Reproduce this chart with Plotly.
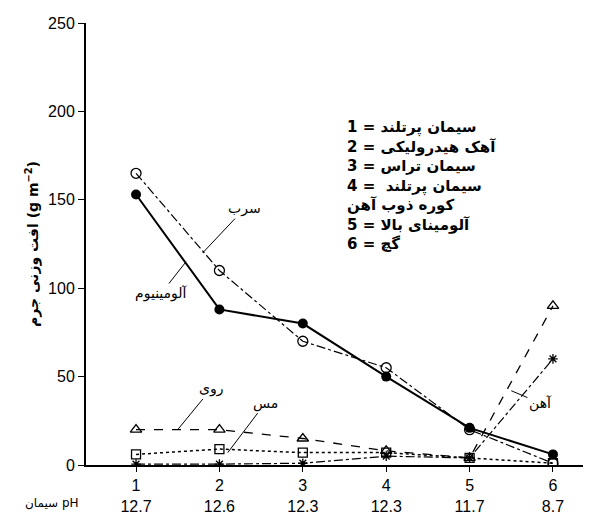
import plotly.graph_objects as go

x = [1, 2, 3, 4, 5, 6]
ph = ["12.7", "12.6", "12.3", "12.3", "11.7", "8.7"]
lead = [165, 110, 70, 55, 20, 1]
aluminium = [153, 88, 80, 50, 21, 6]
zinc = [20, 20, 15, 8, 4, 90]
copper = [6, 9, 7, 7, 4, 1]
iron = [0.5, 0.5, 1, 5, 4, 60]

fig = go.Figure()
k = "black"
fig.add_trace(go.Scatter(x=x, y=lead, mode="lines+markers", line=dict(color=k, width=1.2, dash="dashdot"),
                         marker=dict(symbol="circle-open", size=10, color=k, line=dict(width=1.3))))
fig.add_trace(go.Scatter(x=x, y=aluminium, mode="lines+markers", line=dict(color=k, width=2),
                         marker=dict(symbol="circle", size=10, color=k)))
fig.add_trace(go.Scatter(x=x, y=zinc, mode="lines+markers", line=dict(color=k, width=1.3, dash="dash"),
                         marker=dict(symbol="triangle-up-open", size=10, color=k, line=dict(width=1.3))))
fig.add_trace(go.Scatter(x=x, y=copper, mode="lines+markers", line=dict(color=k, width=1.5, dash="dot"),
                         marker=dict(symbol="square-open", size=9, color=k, line=dict(width=1.3))))
fig.add_trace(go.Scatter(x=x, y=iron, mode="lines+markers", line=dict(color=k, width=1.2, dash="dashdot"),
                         marker=dict(symbol="asterisk-open", size=8, color=k, line=dict(width=1.3, color=k))))

F = "DejaVu Sans"
N = "Liberation Sans"
def lab(text, xa, ya, ax, ay):
    fig.add_annotation(x=xa, y=ya, ax=ax, ay=ay, axref="x", ayref="y", text=text, showarrow=True,
                       arrowhead=0, arrowwidth=1, arrowcolor=k, font=dict(family=F, size=14, color=k))

lab("سرب", 1.8, 120, 2.3, 145)
lab("آلومینیوم", 1.6, 115, 1.3, 97)
lab("روی", 1.5, 20, 1.9, 43)
lab("مس", 2.1, 7, 2.55, 35)
lab("آهن", 5.5, 42, 5.85, 35)

legend = ["سیمان پرتلند = 1", "آهک هیدرولیکی = 2", "سیمان تراس = 3", "سیمان پرتلند  = 4",
          "کوره ذوب آهن", "آلومینای بالا = 5", "گچ = 6"]
fig.add_annotation(x=0.51, y=0.79, xref="paper", yref="paper", xanchor="left", yanchor="top",
                   text="<b>" + "<br>".join(legend) + "</b>", showarrow=False, align="left",
                   font=dict(family=F, size=15, color=k))
fig.add_annotation(x=-0.01, y=-0.085, xref="paper", yref="paper", xanchor="right", yanchor="middle",
                   text="سیمان pH", showarrow=False, font=dict(family=F, size=12, color=k))

fig.update_layout(width=591, height=525, margin=dict(l=78, r=6, t=15, b=68), showlegend=False,
                  plot_bgcolor="white", paper_bgcolor="white", font=dict(family=N, size=16, color=k))
fig.update_xaxes(range=[0.4, 6.48], tickvals=x, ticktext=[f"{a}<br>{b}" for a, b in zip(x, ph)],
                 showline=True, linecolor=k, linewidth=2, ticks="outside", tickcolor=k, ticklen=5,
                 showgrid=False, zeroline=False)
fig.update_yaxes(range=[0, 250], tickvals=[0, 50, 100, 150, 200, 250], showline=True, linecolor=k,
                 linewidth=2, ticks="outside", tickcolor=k, ticklen=6, showgrid=False, zeroline=False,
                 title=dict(text="<b>افت وزنی جرم (g m<sup>−2</sup>)</b>", font=dict(family=F, size=14), standoff=6))
fig.write_html("out.html")
